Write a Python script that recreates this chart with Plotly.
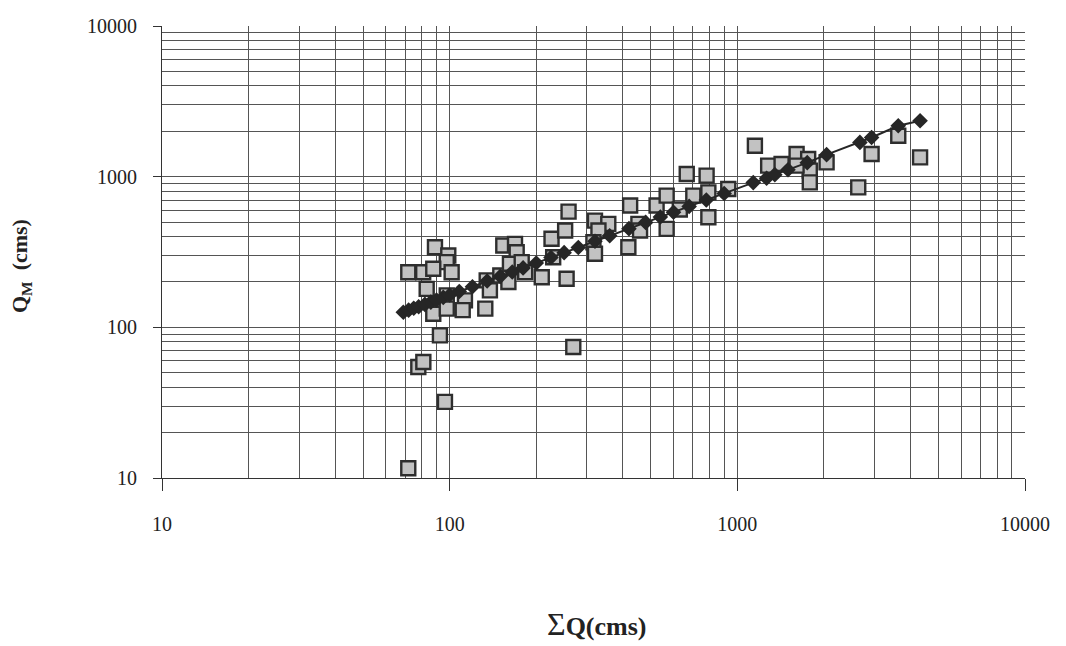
import plotly.graph_objects as go

# Observed data (squares)
obs_x = [71.8, 71.8, 80.9, 88.9, 98.9, 97.7, 87.7, 101.6, 83.2, 97.7, 113, 87.7, 97.7, 111,
         133, 134.5, 138, 150, 153.6, 168.7, 171, 162, 160, 178, 183, 209, 226, 229, 252, 255,
         92.5, 269, 77.8, 81, 96.3, 259, 320, 356, 329, 316, 320, 424, 418, 453, 459, 524,
         568, 568, 667, 782, 703, 793, 793, 631, 930, 1151, 1280, 1425, 1607, 1763, 1786,
         1786, 1607, 2043, 2632, 2929, 3626, 4318]
obs_y = [11.6, 232, 232, 340, 300, 271, 245, 232, 180, 163, 151, 123, 133, 130,
         133, 205, 176, 221, 349, 358, 315, 264, 200, 271, 232, 215, 387, 292, 439, 210,
         88.5, 74, 54.6, 58.9, 32, 586, 511, 486, 439, 367, 308, 643, 340, 486, 439, 643,
         748, 450, 1042, 1016, 748, 787, 538, 606, 828, 1604, 1183, 1213, 1413, 1309, 1096,
         916, 1183, 1244, 849, 1413, 1869, 1342]

# Fitted values (diamonds)
fit_x = [69, 72, 75, 78, 82, 86, 90, 95, 100, 108, 120, 135, 150, 165, 180, 200, 225, 250,
         280, 320, 360, 420, 480, 540, 600, 680, 780, 900, 1136, 1264, 1350, 1500, 1750,
         2043, 2667, 2929, 3626, 4318]
fit_y = [126, 130, 134, 137, 142, 147, 152, 158, 164, 173, 186, 203, 218, 233, 248, 267, 291, 313,
         339, 373, 405, 452, 497, 540, 581, 635, 700, 774, 913, 975, 1031, 1111, 1239,
         1400, 1688, 1820, 2177, 2349]

tick_vals = [10, 100, 1000, 10000]
tick_text = ["10", "100", "1000", "10000"]

fig = go.Figure()
fig.add_trace(go.Scatter(
    x=obs_x, y=obs_y, mode="markers",
    marker=dict(symbol="square", size=14, color="#c2c2c2",
                line=dict(color="#2e2e2e", width=2.4)),
    showlegend=False))
fig.add_trace(go.Scatter(
    x=fit_x, y=fit_y, mode="lines+markers",
    line=dict(color="#262626", width=2),
    marker=dict(symbol="diamond", size=12, color="#262626"),
    showlegend=False))

font_family = "Liberation Serif, Times New Roman, serif"
grid_col = "#555555"

fig.update_layout(
    width=1066, height=646,
    margin=dict(l=162, r=41, t=26, b=168),
    paper_bgcolor="white", plot_bgcolor="white",
    font=dict(family=font_family, size=20, color="#222"),
    xaxis=dict(type="log", range=[1, 4], tickvals=tick_vals, ticktext=tick_text,
               showgrid=True, gridcolor=grid_col, gridwidth=1,
               showline=True, linecolor="#333", linewidth=1.2,
               ticks="outside", ticklen=12, tickcolor="#333",
               ticklabelstandoff=16, zeroline=False,
               tickfont=dict(size=20, family=font_family, color="#222"),
               minor=dict(dtick="D1", showgrid=True, gridcolor=grid_col, gridwidth=1, ticks="")),
    yaxis=dict(type="log", range=[1, 4], tickvals=tick_vals, ticktext=tick_text,
               showgrid=True, gridcolor=grid_col, gridwidth=1,
               showline=True, linecolor="#333", linewidth=1.2,
               ticks="outside", ticklen=8, tickcolor="#333",
               ticklabelstandoff=12, zeroline=False,
               tickfont=dict(size=20, family=font_family, color="#222"),
               minor=dict(dtick="D1", showgrid=True, gridcolor=grid_col, gridwidth=1, ticks="")),
    annotations=[
        dict(text="<b>Q<sub>M</sub>&nbsp;&nbsp;(cms)</b>", xref="paper", yref="paper",
             x=-0.164, y=0.47, xanchor="center", yanchor="middle",
             textangle=-90, showarrow=False,
             font=dict(size=22, family=font_family, color="#222")),
        dict(text="<span style='font-size:32px'>Σ</span><b>Q(cms)</b>", xref="paper", yref="paper",
             x=0.503, y=-0.323, xanchor="center", yanchor="middle", showarrow=False,
             font=dict(size=26, family=font_family, color="#222")),
    ],
)

fig.write_html("out.html")
